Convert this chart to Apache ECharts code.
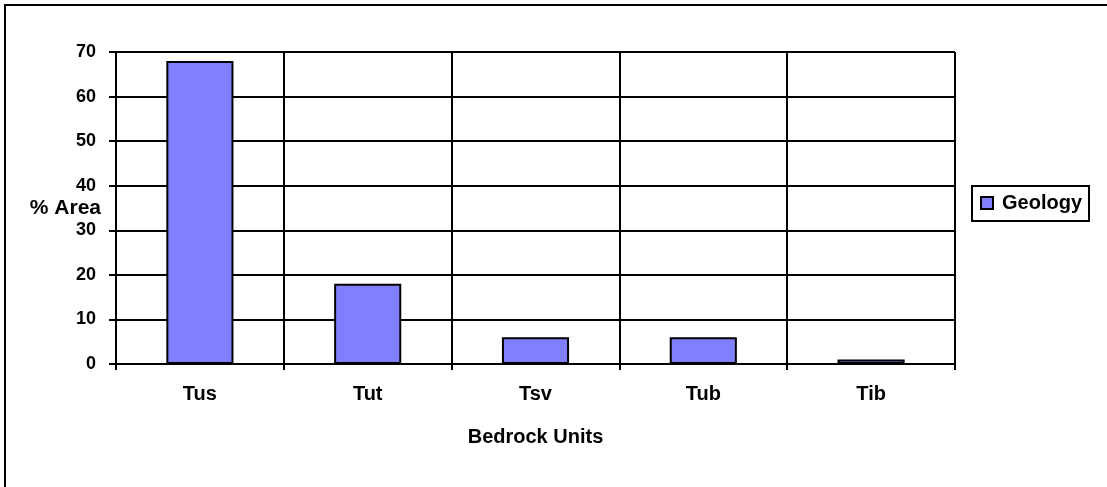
<!DOCTYPE html>
<html>
<head>
<meta charset="utf-8">
<script src="https://cdn.jsdelivr.net/npm/echarts@6/dist/echarts.min.js"></script>
<style>
html,body{margin:0;padding:0;background:#fff;}
#chart{width:1107px;height:487px;}
</style>
</head>
<body>
<div id="chart"></div>
<script>
const categories = ['Tus', 'Tut', 'Tsv', 'Tub', 'Tib'];
const geology = [68, 18, 6, 6, 1];
const seriesName = 'Geology';
const yTicks = { min: 0, max: 70, interval: 10 };

const FONT = '"Liberation Sans", Arial, sans-serif';
const chart = echarts.init(document.getElementById('chart'), null, { renderer: 'canvas' });
chart.setOption({
  backgroundColor: '#ffffff',
  animation: false,
  textStyle: { fontFamily: FONT, color: '#000' },
  graphic: [{
    type: 'rect',
    shape: { x: 5, y: 5, width: 1110, height: 500 },
    style: { fill: 'none', stroke: '#000', lineWidth: 2 },
    silent: true
  }],
  grid: { left: 116, top: 52, right: 152, bottom: 123, containLabel: false },
  legend: {
    data: [seriesName],
    left: 972, top: 186,
    orient: 'vertical',
    borderColor: '#000', borderWidth: 2,
    padding: [7, 7, 8, 8],
    itemWidth: 12, itemHeight: 12, itemGap: 5,
    icon: 'rect',
    itemStyle: { borderColor: '#000', borderWidth: 2, color: '#8080FF' },
    textStyle: { fontFamily: FONT, fontWeight: 'bold', fontSize: 20, color: '#000', padding: [0, 0, 0, 4] }
  },
  xAxis: {
    type: 'category',
    data: categories,
    boundaryGap: true,
    name: 'Bedrock Units',
    nameLocation: 'middle',
    nameGap: 63,
    nameMoveOverlap: false,
    nameTextStyle: { fontFamily: FONT, fontWeight: 'bold', fontSize: 20, color: '#000', verticalAlign: 'top' },
    axisLine: { show: true, lineStyle: { color: '#000', width: 2 } },
    axisTick: { show: true, length: 6, lineStyle: { color: '#000', width: 2 } },
    axisLabel: { fontFamily: FONT, fontWeight: 'bold', fontSize: 20, color: '#000', margin: 20 },
    splitLine: { show: true, lineStyle: { color: '#000', width: 2 } }
  },
  yAxis: {
    type: 'value',
    min: yTicks.min, max: yTicks.max, interval: yTicks.interval,
    name: '% Area',
    nameLocation: 'middle',
    nameRotate: 0,
    nameGap: 15,
    nameMoveOverlap: false,
    nameTextStyle: { fontFamily: FONT, fontWeight: 'bold', fontSize: 21, color: '#000', align: 'right', verticalAlign: 'middle', padding: [4, 0, 0, 0] },
    axisLine: { show: true, lineStyle: { color: '#000', width: 2 } },
    axisTick: { show: true, length: 7, lineStyle: { color: '#000', width: 2 } },
    axisLabel: { fontFamily: FONT, fontWeight: 'bold', fontSize: 18, color: '#000', margin: 20 },
    splitLine: { show: true, lineStyle: { color: '#000', width: 2 } }
  },
  series: [{
    name: seriesName,
    type: 'bar',
    data: geology,
    barWidth: '40%',
    itemStyle: { color: '#8080FF', borderColor: '#000', borderWidth: 2 }
  }]
});
</script>
</body>
</html>
